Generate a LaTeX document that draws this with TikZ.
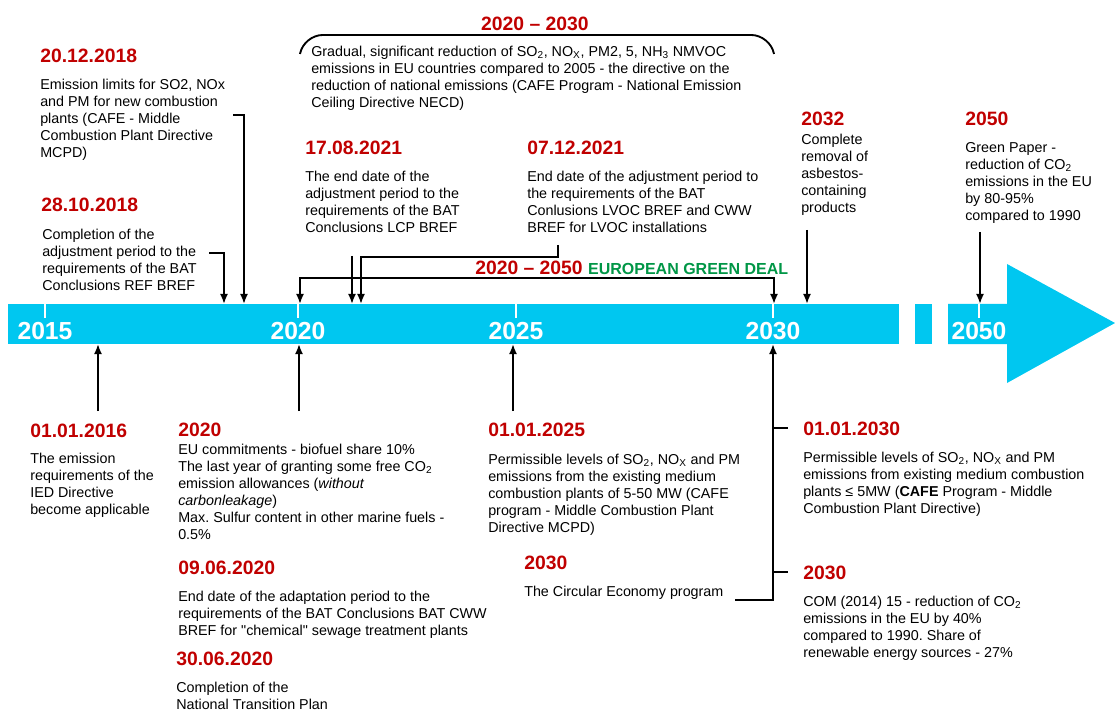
\documentclass[tikz,border=0pt]{standalone}
\usepackage{fontspec}
\setmainfont{Liberation Sans}
\usetikzlibrary{arrows.meta}
\definecolor{rouge}{RGB}{192,0,0}
\definecolor{vert}{RGB}{0,150,70}
\definecolor{bleu}{RGB}{0,199,240}
\frenchspacing
\begin{document}
\begin{tikzpicture}[x=0.75pt,y=-0.75pt]
% Styles
\tikzstyle{date}=[anchor=west,inner sep=0pt,text=rouge,font=\fontsize{14.5}{17}\selectfont\bfseries]
\tikzstyle{texte}=[anchor=north west,inner sep=0pt,align=left,font=\fontsize{10.75}{12.75}\selectfont]
\tikzstyle{annee}=[inner sep=0pt,text=white,font=\fontsize{18.5}{20}\selectfont\bfseries]
\tikzstyle{fleche}=[->,>={Latex[length=7.5pt,width=6pt]},line width=1.4pt]
\tikzstyle{trait}=[line width=1.4pt]
\tikzstyle{repere}=[white,line width=1.5pt]
% Dimensions
\def\haut{304}
\def\bas{344}
\useasboundingbox (0,0) rectangle (1115,713);
% Frise
\fill[bleu] (8,\haut) rectangle (899,\bas);
\fill[bleu] (915,\haut) rectangle (932,\bas);
\fill[bleu] (948,\haut) -- (1007,\haut) -- (1007,264) -- (1115,323) -- (1007,383) -- (1007,\bas) -- (948,\bas) -- cycle;
\foreach \x/\a in {45/2015,298/2020,516/2025,773/2030,979/2050}{
  \draw[repere] (\x,\haut) -- (\x,318);
  \node[annee] (a\a) at (\x,331) {\a};
}
% Points sur la frise
\coordinate (b2810) at (224,\haut);
\coordinate (b2012) at (244,\haut);
\coordinate (g2020) at (300,\haut);
\coordinate (b1708) at (352,\haut);
\coordinate (b0712) at (361,\haut);
\coordinate (g2030) at (774,\haut);
\coordinate (b2032) at (807,\haut);
\coordinate (b2050) at (980,\haut);
\coordinate (b2016) at (98,\bas);
\coordinate (b2020) at (299,\bas);
\coordinate (b2025) at (513,\bas);
\coordinate (b2030) at (773,\bas);
% Au-dessus de la frise
\node[date] (d2012) at (40,56) {20.12.2018};
\node[texte] (t2012) at (40,79) {Emission limits for SO2, NOx\\and PM for new combustion\\plants (CAFE - Middle\\Combustion Plant Directive\\MCPD)};
\node[date] (d2810) at (41,205) {28.10.2018};
\node[texte] (t2810) at (42,229) {Completion of the\\adjustment period to the\\requirements of the BAT\\Conclusions REF BREF};
\node[date,anchor=center] (p2030) at (535,24) {2020 – 2030};
\node[texte] (necd) at (311,46) {Gradual, significant reduction of SO\textsubscript{2}, NO\textsubscript{X}, PM2, 5, NH\textsubscript{3} NMVOC\\emissions in EU countries compared to 2005 - the directive on the\\reduction of national emissions (CAFE Program - National Emission\\Ceiling Directive NECD)};
\node[date] (d1708) at (305,148) {17.08.2021};
\node[texte] (t1708) at (305,171) {The end date of the\\adjustment period to the\\requirements of the BAT\\Conclusions LCP BREF};
\node[date] (d0712) at (527,148) {07.12.2021};
\node[texte] (t0712) at (527,171) {End date of the adjustment period to\\the requirements of the BAT\\Conlusions LVOC BREF and CWW\\BREF for LVOC installations};
\node[date,anchor=base west] (gdeal) at (475,275) {2020 – 2050 \textcolor{vert}{\fontsize{12}{14}\selectfont EUROPEAN GREEN DEAL}};
\node[date] (d2032) at (801,119) {2032};
\node[texte] (t2032) at (801,134) {Complete\\removal of\\asbestos-\\containing\\products};
\node[date] (d2050) at (965,119) {2050};
\node[texte] (t2050) at (965,142) {Green Paper -\\reduction of CO\textsubscript{2}\\emissions in the EU\\by 80-95\%\\compared to 1990};
% Sous la frise
\node[date] (d2016) at (30,431) {01.01.2016};
\node[texte] (t2016) at (30,453) {The emission\\requirements of the\\IED Directive\\become applicable};
\node[date] (d2020) at (178,430) {2020};
\node[texte] (t2020) at (178,444) {EU commitments - biofuel share 10\%\\The last year of granting some free CO\textsubscript{2}\\emission allowances (\textit{without}\\\textit{carbonleakage})\\Max. Sulfur content in other marine fuels -\\0.5\%};
\node[date] (d0906) at (178,568) {09.06.2020};
\node[texte] (t0906) at (178,591) {End date of the adaptation period to the\\requirements of the BAT Conclusions BAT CWW\\BREF for \textquotedbl chemical\textquotedbl{} sewage treatment plants};
\node[date] (d3006) at (176,659) {30.06.2020};
\node[texte] (t3006) at (176,682) {Completion of the\\National Transition Plan};
\node[date] (d2025) at (488,430) {01.01.2025};
\node[texte] (t2025) at (488,454) {Permissible levels of SO\textsubscript{2}, NO\textsubscript{X} and PM\\emissions from the existing medium\\combustion plants of 5-50 MW (CAFE\\program - Middle Combustion Plant\\Directive MCPD)};
\node[date] (d2030a) at (524,563) {2030};
\node[texte] (t2030a) at (524,586) {The Circular Economy program};
\node[date] (d2030b) at (803,429) {01.01.2030};
\node[texte] (t2030b) at (803,452) {Permissible levels of SO\textsubscript{2}, NO\textsubscript{X} and PM\\emissions from existing medium combustion\\plants ≤ 5MW (\textbf{CAFE} Program - Middle\\Combustion Plant Directive)};
\node[date] (d2030c) at (803,573) {2030};
\node[texte] (t2030c) at (803,596) {COM (2014) 15 - reduction of CO\textsubscript{2}\\emissions in the EU by 40\%\\compared to 1990. Share of\\renewable energy sources - 27\%};
% Departs des fleches
\coordinate (s2810) at (209,253);
\coordinate (s2012) at (233,115);
\coordinate (s1708) at (352,256);
\coordinate (s0712) at (558,245);
\coordinate (k0712) at (361,257);
\coordinate (kg1) at (300,278);
\coordinate (kg2) at (774,278);
\coordinate (s2032) at (807,230);
\coordinate (s2050) at (980,232);
\coordinate (s2016) at (98,411);
\coordinate (s2020) at (299,411);
\coordinate (s2025) at (513,411);
\coordinate (s2030) at (735,600);
\coordinate (k2030b) at (773,428);
\coordinate (k2030c) at (773,572);
% Fleches
\draw[trait,rounded corners=14] (300,54) -- (304,35) -- (770,35) -- (774,54);
\draw[fleche] (s2810) -| (b2810);
\draw[fleche] (s2012) -| (b2012);
\draw[fleche] (s1708) -- (b1708);
\draw[fleche] (s0712) |- (k0712) -- (b0712);
\draw[fleche,<->] (g2020) -- (kg1) -- (kg2) -- (g2030);
\draw[fleche] (s2032) -- (b2032);
\draw[fleche] (s2050) -- (b2050);
\draw[fleche] (s2016) -- (b2016);
\draw[fleche] (s2020) -- (b2020);
\draw[fleche] (s2025) -- (b2025);
\draw[fleche] (s2030) -| (b2030);
\draw[trait] (k2030b) -- ++(15,0);
\draw[trait] (k2030c) -- ++(15,0);
\end{tikzpicture}
\end{document}
